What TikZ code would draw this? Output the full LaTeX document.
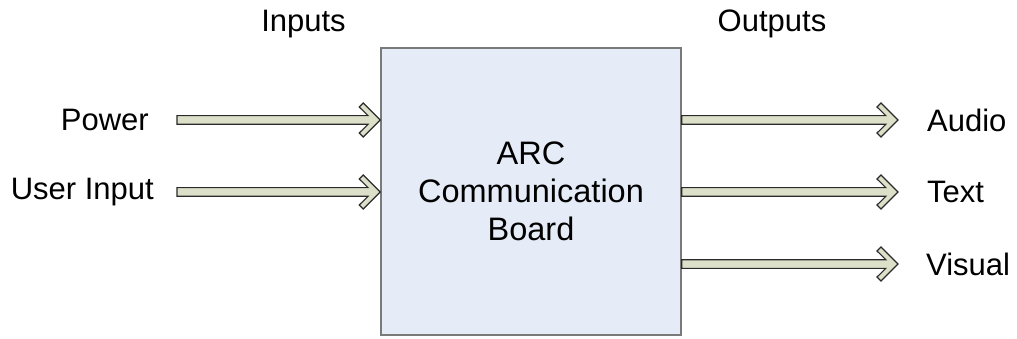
\documentclass[tikz,border=0pt]{standalone}
\usepackage{fontspec}
\setmainfont{Liberation Sans}
\usetikzlibrary{calc}

\definecolor{boardfill}{HTML}{E6ECF7}
\definecolor{boardline}{HTML}{7A7A7A}
\definecolor{arrowfill}{HTML}{DDE0C9}
\definecolor{arrowline}{HTML}{2A2A2A}

\tikzset{
  board/.style={draw=boardline, line width=1.5pt, fill=boardfill,
    minimum width=300pt, minimum height=287pt, inner sep=0pt,
    align=center, font=\fontsize{32.5}{38}\selectfont},
  label/.style={inner sep=0pt, font=\fontsize{31}{36}\selectfont},
  blockarrow/.style={draw=arrowline, line width=1.1pt, fill=arrowfill, line join=miter}
}

% block arrow with a chevron head, from coordinate #1 to tip coordinate #2
\newcommand{\chevronarrow}[2]{%
  \path[blockarrow]
    let \p1=(#1), \p2=(#2) in
    (\x1,\y1-4.3pt) -- (\x2-12.2pt,\y1-4.3pt) -- (\x2-21pt,\y1-13pt)
    -- (\x2-17pt,\y1-17pt) -- (\x2,\y1) -- (\x2-17pt,\y1+17pt)
    -- (\x2-21pt,\y1+13pt) -- (\x2-12.2pt,\y1+4.3pt) -- (\x1,\y1+4.3pt) -- cycle;
}

\begin{document}
\begin{tikzpicture}[x=1pt,y=-1pt]
  \useasboundingbox (0,0) rectangle (1017,339);

  \node[board] (arc) at (531,191.5) {ARC\\Communication\\Board};

  \node[label] (inputs) at (303.5,24) {Inputs};
  \node[label] (outputs) at (772,24) {Outputs};

  % inputs
  \coordinate (pw) at (177,120);
  \coordinate (ui) at (177,192);
  \coordinate (pwtip) at (arc.west |- pw);
  \coordinate (uitip) at (arc.west |- ui);
  \node[label, anchor=east] (power) at (149,120) {Power};
  \node[label, anchor=east] (user) at (154,192) {User Input};
  \chevronarrow{pw}{pwtip}
  \chevronarrow{ui}{uitip}

  % outputs
  \coordinate (au) at (arc.east |- 0,120);
  \coordinate (tx) at (arc.east |- 0,192);
  \coordinate (vi) at (arc.east |- 0,264);
  \coordinate (autip) at (898,120);
  \coordinate (txtip) at (898,192);
  \coordinate (vitip) at (898,264);
  \chevronarrow{au}{autip}
  \chevronarrow{tx}{txtip}
  \chevronarrow{vi}{vitip}
  \node[label, anchor=west] (audio) at (927,120) {Audio};
  \node[label, anchor=west] (text) at (927,192) {Text};
  \node[label, anchor=west] (visual) at (926,264) {Visual};
\end{tikzpicture}
\end{document}
